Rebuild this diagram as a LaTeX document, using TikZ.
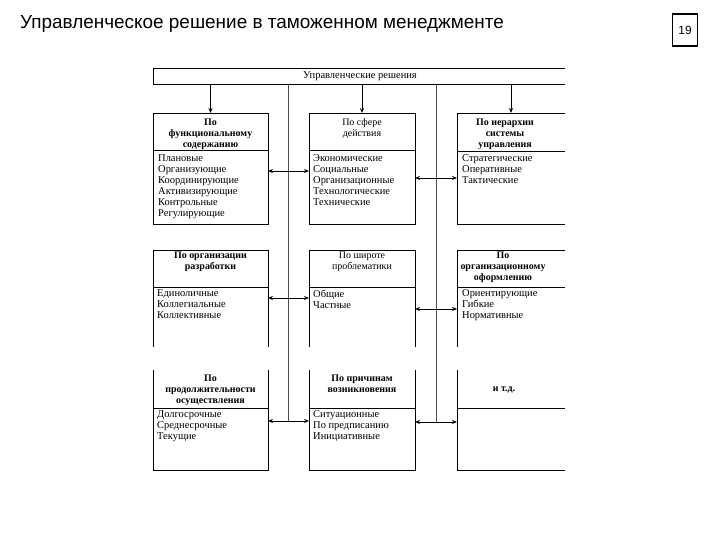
\documentclass[tikz,border=0pt]{standalone}
\usepackage{fontspec}
\setmainfont{Liberation Serif}
\newfontfamily\titlefont{Liberation Sans}
\usetikzlibrary{arrows.meta}
\begin{document}
\begin{tikzpicture}[x=1bp,y=-1bp,
  ln/.style={line width=0.9bp, black},
  vln/.style={line width=0.9bp, black!70},
  frame/.style={inner sep=0, outer sep=0},
  hd/.style={font=\fontsize{10}{11}\selectfont\bfseries, align=center, inner sep=0, anchor=north, execute at begin node=\strut},
  hdr/.style={font=\fontsize{10}{11}\selectfont, align=center, inner sep=0, anchor=north, execute at begin node=\strut},
  it/.style={font=\fontsize{10.5}{11}\selectfont, align=left, anchor=north west, inner sep=0, execute at begin node=\strut},
  arr/.style={-{Stealth[length=5bp,width=4bp]}, line width=0.8bp},
  darr/.style={{Stealth[length=5bp,width=4bp]}-{Stealth[length=5bp,width=4bp]}, line width=0.8bp}
]
\useasboundingbox (0,0) rectangle (720,540);

% title and page number
\node[anchor=base west, inner sep=0, font=\titlefont\fontsize{19}{21}\selectfont] (title) at (20,29) {Управленческое решение в таможенном менеджменте};
\node[draw, line width=1.2bp, minimum width=25bp, minimum height=32bp, inner sep=0, font=\titlefont\fontsize{12}{14}\selectfont] (pg) at (685,30) {19};

% top bar
\node[frame, minimum width=412bp, minimum height=16bp] (bar) at (359,76) {};
\draw[ln] (bar.north east) -- (bar.north west) -- (bar.south west) -- (bar.south east);
\node[inner sep=0, font=\fontsize{10.5}{11}\selectfont] (bartxt) at (360,76) {Управленческие решения};

% frames
\node[frame, minimum width=115bp, minimum height=111bp] (b11) at (210.5,168.5) {};
\node[frame, minimum width=106bp, minimum height=111bp] (b12) at (362,168.5) {};
\node[frame, minimum width=108bp, minimum height=111bp] (b13) at (511,168.5) {};
\node[frame, minimum width=115bp, minimum height=97bp] (b21) at (210.5,298.5) {};
\node[frame, minimum width=106bp, minimum height=97bp] (b22) at (362,298.5) {};
\node[frame, minimum width=108bp, minimum height=97bp] (b23) at (511,298.5) {};
\node[frame, minimum width=115bp, minimum height=100bp] (b31) at (210.5,420) {};
\node[frame, minimum width=106bp, minimum height=100bp] (b32) at (362,420) {};
\node[frame, minimum width=108bp, minimum height=100bp] (b33) at (511,420) {};

% row 1 borders
\draw[ln] (b11.north west) rectangle (b11.south east);
\draw[ln] (b12.north west) rectangle (b12.south east);
\draw[ln] (b13.north east) -- (b13.north west) -- (b13.south west) -- (b13.south east);
\draw[ln] (b11.west |- 0,150) -- (b11.east |- 0,150);
\draw[ln] (b12.west |- 0,150) -- (b12.east |- 0,150);
\draw[ln] (b13.west |- 0,151) -- (b13.east |- 0,151);
% row 2 borders
\draw[ln] (b21.south west) -- (b21.north west) -- (b21.north east) -- (b21.south east);
\draw[ln] (b22.south west) -- (b22.north west) -- (b22.north east) -- (b22.south east);
\draw[ln] (b23.south west) -- (b23.north west) -- (b23.north east);
\draw[ln] (b21.west |- 0,287) -- (b21.east |- 0,287);
\draw[ln] (b22.west |- 0,287) -- (b22.east |- 0,287);
\draw[ln] (b23.west |- 0,287) -- (b23.east |- 0,287);
% row 3 borders
\draw[ln] (b31.north west) -- (b31.south west) -- (b31.south east) -- (b31.north east);
\draw[ln] (b32.north west) -- (b32.south west) -- (b32.south east) -- (b32.north east);
\draw[ln] (b33.north west) -- (b33.south west) -- (b33.south east);
\draw[ln] (b31.west |- 0,408) -- (b31.east |- 0,408);
\draw[ln] (b32.west |- 0,408) -- (b32.east |- 0,408);
\draw[ln] (b33.west |- 0,408) -- (b33.east |- 0,408);

% headers
\node[hd] (h11) at (210.5,118.5) {По\\функциональному\\содержанию};
\node[hdr] (h12) at (362,118.5) {По сфере\\действия};
\node[hd] (h13) at (505,118.5) {По иерархии\\системы\\управления};
\node[hd] (h21) at (210.5,252) {По организации\\разработки};
\node[hdr] (h22) at (362,252) {По широте\\проблематики};
\node[hd] (h23) at (503,252) {По\\организационному\\оформлению};
\node[hd] (h31) at (210.5,374.5) {По\\продолжительности\\осуществления};
\node[hd] (h32) at (362,374.5) {По причинам\\возникновения};
\node[hd, anchor=center, execute at begin node={}] (h33) at (504,389) {и т.д.};

% items
\node[it] (i11) at (158,154.5) {Плановые\\Организующие\\Координирующие\\Активизирующие\\Контрольные\\Регулирующие};
\node[it] (i12) at (313,154.5) {Экономические\\Социальные\\Организационные\\Технологические\\Технические};
\node[it] (i13) at (462,154.5) {Стратегические\\Оперативные\\Тактические};
\node[it] (i21) at (157,289.5) {Единоличные\\Коллегиальные\\Коллективные};
\node[it] (i22) at (313,289.5) {Общие\\Частные};
\node[it] (i23) at (462,289.5) {Ориентирующие\\Гибкие\\Нормативные};
\node[it] (i31) at (157,410.5) {Долгосрочные\\Среднесрочные\\Текущие};
\node[it] (i32) at (313,410.5) {Ситуационные\\По предписанию\\Инициативные};

% arrows from bar
\draw[arr] (bar.south -| b11.north) -- (b11.north);
\draw[arr] (bar.south -| b12.north) -- (b12.north);
\draw[arr] (bar.south -| b13.north) -- (b13.north);

% vertical lines
\coordinate (v1) at (288,421);
\coordinate (v2) at (436,422);
\draw[vln] (bar.south -| v1) -- (v1);
\draw[vln] (bar.south -| v2) -- (v2);

% double arrows
\draw[darr] (b11.east |- 0,171) -- (b12.west |- 0,171);
\draw[darr] (b12.east |- 0,178) -- (b13.west |- 0,178);
\draw[darr] (b21.east |- 0,298) -- (b22.west |- 0,298);
\draw[darr] (b22.east |- 0,309) -- (b23.west |- 0,309);
\draw[darr] (b31.east |- 0,421) -- (b32.west |- 0,421);
\draw[darr] (b32.east |- 0,422) -- (b33.west |- 0,422);
\end{tikzpicture}
\end{document}
